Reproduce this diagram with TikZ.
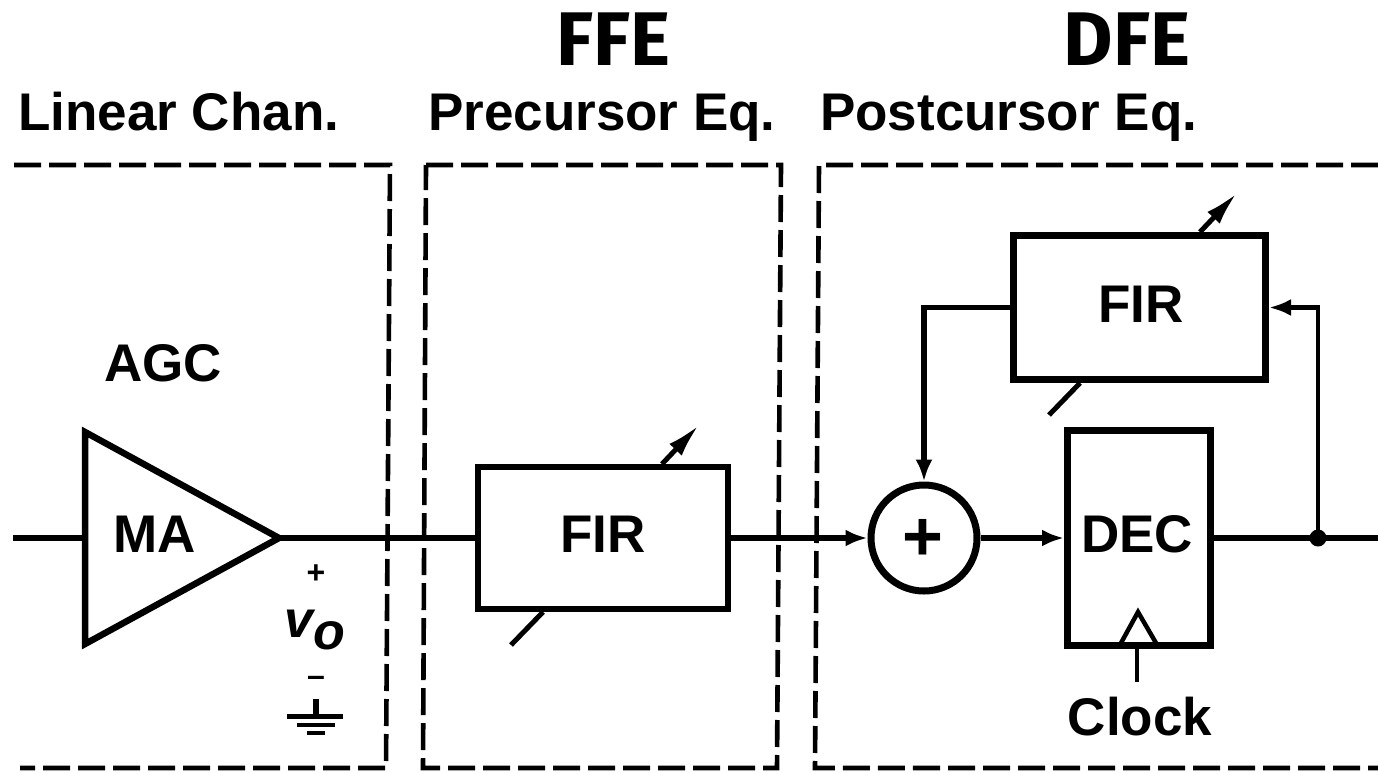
\documentclass[tikz,border=0pt]{standalone}
\usepackage{fontspec}
\setmainfont{Liberation Sans}
\newfontfamily\titlefont{Fira Sans}
\usetikzlibrary{arrows.meta,shapes.geometric,calc}
\tikzset{
  box/.style={draw,line width=6.5pt,inner sep=0},
  wire/.style={line width=5.5pt},
  thin wire/.style={line width=4.5pt},
  tip/.style={-{Latex[length=22pt,width=17pt]}},
  arr/.style={wire,tip},
  zone/.style={draw,line width=4.6pt,dash pattern=on 27pt off 8pt},
  lbl/.style={font=\bfseries\fontsize{53}{53}\selectfont,inner sep=0},
  head/.style={font=\titlefont\bfseries\fontsize{76}{76}\selectfont,inner sep=0},
  small/.style={font=\bfseries\fontsize{32}{32}\selectfont,inner sep=0},
  volt/.style={font=\bfseries\itshape\fontsize{52}{52}\selectfont,inner sep=0},
  tune/.style={line width=5pt},
  tunehead/.style={-{Latex[length=34pt,width=17pt]}},
}
\begin{document}
\begin{tikzpicture}[x=1pt,y=-1pt]
\useasboundingbox (0,0) rectangle (1378,772);
% headings
\node[head,anchor=base] (ffe) at (613,65) {FFE};
\node[head,anchor=base] (dfe) at (1127,65) {DFE};
\node[lbl,anchor=base west] (lc) at (18,130) {Linear Chan.};
\node[lbl,anchor=base west] (pre) at (428,130) {Precursor Eq.};
\node[lbl,anchor=base west] (post) at (820,130) {Postcursor Eq.};
% zones
\draw[zone] (14,165) -- (390,165) -- (386,768) -- (20,768);
\draw[zone] (426,165) -- (781,165) -- (777,768) -- (423,768) -- cycle;
\draw[zone] (1378,165) -- (819,165) -- (815,768) -- (1378,768);
% amplifier
\coordinate (in) at (13,538);
\node[lbl,anchor=base] (agc) at (163,381) {AGC};
\draw[line width=6.5pt,line join=miter] (85,432) -- (279,538) -- (85,644) -- cycle;
\coordinate (maL) at (85,538);
\coordinate (maR) at (279,538);
\node[lbl,anchor=base] (ma) at (155,552) {MA};
\draw[wire] (in) -- (maL);
% FFE FIR
\node[box,minimum width=250pt,minimum height=142pt] (fir1) at (603,538) {};
\node[lbl,anchor=base] (fir1t) at (603,552) {FIR};
\draw[wire] (maR) -- (fir1.west);
% summer
\node[draw,circle,line width=7pt,minimum size=106pt,inner sep=0] (sum) at (924,538) {};
\node[font=\bfseries\fontsize{70}{70}\selectfont,inner sep=0] (plus) at (923,540) {+};
\draw[arr] (fir1.east) -- (sum.west);
% DEC
\node[box,line width=7pt,minimum width=143pt,minimum height=215pt] (dec) at (1139,538) {};
\node[lbl,anchor=base] (dect) at (1137,552) {DEC};
\draw[arr] (sum.east) -- (dec.west);
\draw[line width=4.5pt,line join=miter] (1121,643) -- (1138,612) -- (1156,643);
\coordinate (clkt) at (1137,646);
\coordinate (clkb) at (1137,682);
\node[lbl,anchor=base] (clk) at (1140,735) {Clock};
\draw[thin wire] (clkt) -- (clkb);
% DFE FIR
\node[box,line width=7pt,minimum width=252pt,minimum height=144pt] (fir2) at (1139.5,307.5) {};
\node[lbl,anchor=base] (fir2t) at (1141,322) {FIR};
% output
\coordinate (out) at (1378,538);
\coordinate (tap) at (1318,538);
\coordinate (fbR) at (1318,307.5);
\coordinate (fbL) at (924,307.5);
\draw[wire] (dec.east) -- (out);
\fill (tap) circle (8.5pt);
\draw[thin wire,tip,line join=miter] (tap) -- (fbR) -- (fir2.east);
\draw[wire,tip,line join=miter] (fir2.west) -- (fbL) -- (sum.north);
% tunable arrows
\coordinate (t1a) at (1200,232);
\coordinate (t1b) at (1237,193);
\coordinate (t2a) at (1080,383);
\coordinate (t2b) at (1049,415);
\coordinate (t3a) at (662,464);
\coordinate (t3b) at (699,425);
\coordinate (t4a) at (543,612);
\coordinate (t4b) at (511,645);
\draw[tune,tunehead] (t1a) -- (t1b);
\draw[tune] (t2a) -- (t2b);
\draw[tune,tunehead] (t3a) -- (t3b);
\draw[tune] (t4a) -- (t4b);
% Vo
\node[small] (vp) at (316,574) {+};
\node[volt,anchor=base west] (vo) at (284,637) {v};
\node[volt,anchor=base west] (vo2) at (313,649) {o};
\node[small] (vm) at (316,681) {–};
\coordinate (g0) at (316,699);
\coordinate (g1) at (316,716);
\draw[line width=6pt] (g0) -- (g1);
\draw[line width=5pt] (287,716) -- (343,716);
\draw[line width=3.5pt] (297,725) -- (335,725);
\draw[line width=4pt] (307,733) -- (325,733);
\end{tikzpicture}
\end{document}
